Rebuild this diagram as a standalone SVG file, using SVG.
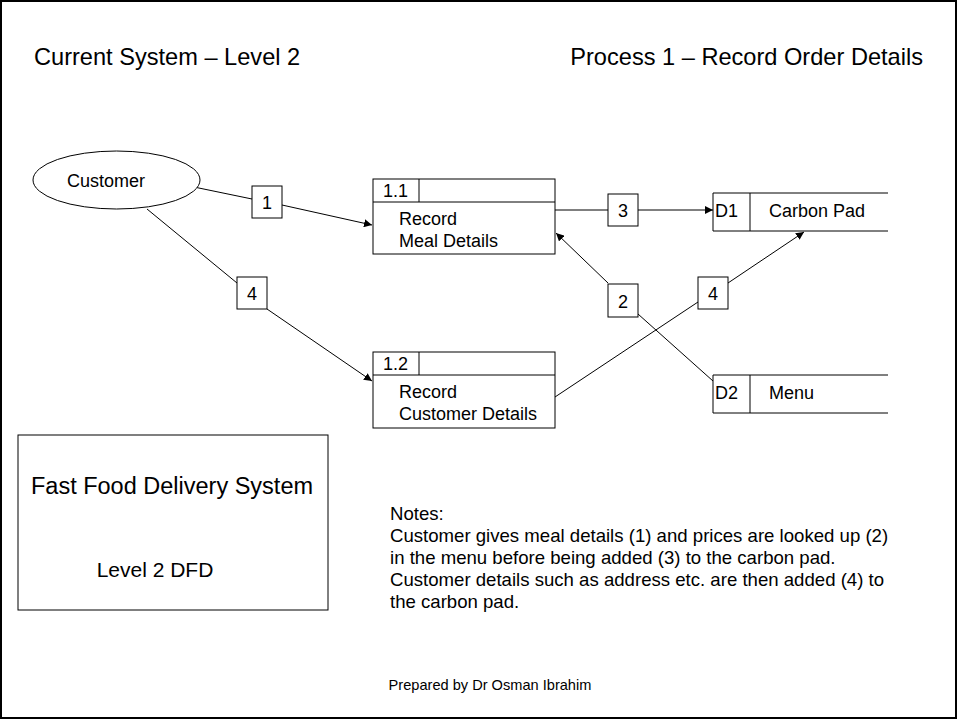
<svg xmlns="http://www.w3.org/2000/svg" width="958" height="720" viewBox="0 0 958 720">
  <style>
    text { font-family: "Liberation Sans", Arial, sans-serif; fill: #000; }
    .t18 { font-size: 18px; }
    .note { font-size: 18.6px; }
    .shape { fill: #fff; stroke: #000; stroke-width: 1; }
    .flow { fill: none; stroke: #000; stroke-width: 1; }
    .lbl { fill: #fff; stroke: #000; stroke-width: 1; }
  </style>
  <defs>
    <marker id="arrow" viewBox="0 0 10 10" refX="10" refY="5" markerWidth="8" markerHeight="8" markerUnits="userSpaceOnUse" orient="auto">
      <path d="M0,0 L10,5 L0,10 z" fill="#000"/>
    </marker>
  </defs>

  <rect x="1" y="1" width="955" height="717" fill="#fff" stroke="#000" stroke-width="2"/>

  <text x="34" y="65" font-size="23.6">Current System – Level 2</text>
  <text x="923" y="65" font-size="23.6" text-anchor="end">Process 1 – Record Order Details</text>

  <!-- data flows with their numbered labels -->
  <g id="connectors">
    <line class="flow" x1="194" y1="187" x2="252" y2="199"/>
    <line class="flow" x1="282" y1="205" x2="372" y2="225" marker-end="url(#arrow)"/>
    <line class="flow" x1="147" y1="209" x2="237" y2="283"/>
    <line class="flow" x1="267" y1="309" x2="372" y2="381" marker-end="url(#arrow)"/>
    <line class="flow" x1="555" y1="210" x2="608" y2="210"/>
    <line class="flow" x1="638" y1="210" x2="713" y2="210" marker-end="url(#arrow)"/>
    <line class="flow" x1="608" y1="283" x2="556" y2="233" marker-end="url(#arrow)"/>
    <line class="flow" x1="638" y1="314" x2="713" y2="381"/>
    <line class="flow" x1="555" y1="397" x2="698" y2="302"/>
    <line class="flow" x1="728" y1="283" x2="804" y2="232" marker-end="url(#arrow)"/>
    <rect class="lbl" x="252" y="186" width="30" height="32"/>
    <text class="t18" x="267" y="209" text-anchor="middle">1</text>
    <rect class="lbl" x="237" y="277" width="30" height="32"/>
    <text class="t18" x="252" y="300" text-anchor="middle">4</text>
    <rect class="lbl" x="608" y="194" width="30" height="32"/>
    <text class="t18" x="623" y="217" text-anchor="middle">3</text>
    <rect class="lbl" x="608" y="284" width="30" height="33"/>
    <text class="t18" x="623" y="308" text-anchor="middle">2</text>
    <rect class="lbl" x="698" y="277" width="30" height="32"/>
    <text class="t18" x="713" y="300" text-anchor="middle">4</text>
  </g>

  <g id="customer">
    <ellipse class="shape" cx="116.5" cy="180" rx="83.5" ry="29"/>
    <text class="t18" x="67" y="187">Customer</text>
  </g>

  <g id="process-1-1">
    <rect class="shape" x="373" y="179" width="182" height="75"/>
    <line class="flow" x1="373" y1="202" x2="555" y2="202"/>
    <line class="flow" x1="419" y1="179" x2="419" y2="202"/>
    <text class="t18" x="383" y="197">1.1</text>
    <text class="t18" x="399" y="225">Record</text>
    <text class="t18" x="399" y="247">Meal Details</text>
  </g>

  <g id="process-1-2">
    <rect class="shape" x="373" y="352" width="182" height="76"/>
    <line class="flow" x1="373" y1="375" x2="555" y2="375"/>
    <line class="flow" x1="419" y1="352" x2="419" y2="375"/>
    <text class="t18" x="383" y="370">1.2</text>
    <text class="t18" x="399" y="398">Record</text>
    <text class="t18" x="399" y="420">Customer Details</text>
  </g>

  <g id="store-d1">
    <path class="flow" d="M888,193 H713 V231 H888 M750,193 V231"/>
    <text class="t18" x="715" y="217">D1</text>
    <text class="t18" x="769" y="217">Carbon Pad</text>
  </g>

  <g id="store-d2">
    <path class="flow" d="M888,375 H713 V413 H888 M750,375 V413"/>
    <text class="t18" x="715" y="399">D2</text>
    <text class="t18" x="769" y="399">Menu</text>
  </g>

  <g id="title-box">
    <rect class="shape" x="18" y="435" width="310" height="175"/>
    <text x="172" y="494" font-size="23.5" text-anchor="middle">Fast Food Delivery System</text>
    <text x="155" y="577" font-size="21" text-anchor="middle">Level 2 DFD</text>
  </g>

  <g id="notes">
    <text class="note" x="390" y="520">Notes:</text>
    <text class="note" x="390" y="542">Customer gives meal details (1) and prices are looked up (2)</text>
    <text class="note" x="390" y="564">in the menu before being added (3) to the carbon pad.</text>
    <text class="note" x="390" y="586">Customer details such as address etc. are then added (4) to</text>
    <text class="note" x="390" y="608">the carbon pad.</text>
  </g>

  <text x="490" y="690" font-size="14.6" text-anchor="middle">Prepared by Dr Osman Ibrahim</text>
</svg>
